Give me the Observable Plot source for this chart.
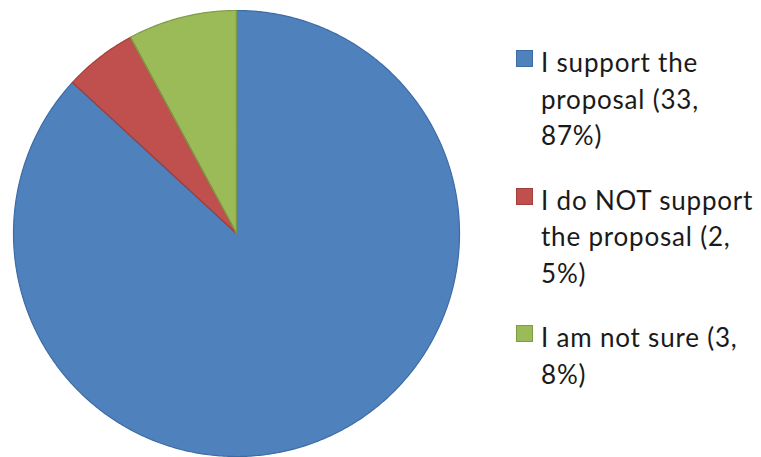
<!DOCTYPE html>
<html>
<head>
<meta charset="utf-8">
<script src="https://cdn.jsdelivr.net/npm/d3@7"></script>
<script src="https://cdn.jsdelivr.net/npm/@observablehq/plot@0.6"></script>
<style>
  html, body { margin: 0; padding: 0; background: #fff; }
  #wrap { position: relative; width: 761px; height: 457px; overflow: hidden; }
  #legend { position: absolute; left: 516px; top: 44px; font-family: Lato, sans-serif; font-size: 26px; letter-spacing: 0.8px; line-height: 36.5px; color: #1a1a1a; }
  .item { display: flex; align-items: flex-start; margin-bottom: 28px; }
  .sw { width: 15px; height: 15px; margin-top: 6px; margin-right: 8px; flex: none; border: 1px solid; }
  .lab { width: 225px; }
</style>
</head>
<body>
<div id="wrap"><div id="legend"></div></div>
<script>
const categories = ["I support the proposal", "I do NOT support the proposal", "I am not sure"];
const values = [33, 2, 3];
const colors = ["#4F81BD", "#C0504D", "#9BBB59"];
const strokes = ["#3D6CA5", "#A23F3C", "#7E9C45"];

const total = d3.sum(values);
const rows = categories.map((c, i) => ({category: c, value: values[i]}));
const arcs = d3.pie().sort(null).value(d => d.value)(rows); // angles clockwise from 12 o'clock

// Build slice outlines from pie angles (geometry only)
const pts = [];
arcs.forEach(a => {
  const k = a.data.category;
  pts.push({k, x: 0, y: 0});
  const n = Math.max(8, Math.ceil((a.endAngle - a.startAngle) / 0.01));
  for (let j = 0; j <= n; j++) {
    const t = a.startAngle + (a.endAngle - a.startAngle) * j / n;
    pts.push({k, x: Math.sin(t), y: Math.cos(t)});
  }
  pts.push({k, x: 0, y: 0});
});

const chart = Plot.plot({
  width: 761,
  height: 457,
  marginLeft: 13,
  marginRight: 302,
  marginTop: 10,
  marginBottom: 1,
  x: {domain: [-1, 1], axis: null},
  y: {domain: [-1, 1], axis: null},
  color: {domain: categories, range: colors},
  marks: [
    Plot.line(pts, {x: "x", y: "y", z: "k", fill: "k", stroke: "k", strokeWidth: 0, curve: "linear"}),
    ...categories.map((c, i) => Plot.line(pts.filter(p => p.k === c), {x: "x", y: "y", stroke: strokes[i], strokeWidth: 1.2, strokeLinejoin: "round"}))
  ]
});
document.getElementById("wrap").prepend(chart);

const legend = d3.select("#legend");
categories.forEach((c, i) => {
  const pct = Math.round(values[i] / total * 100);
  const it = legend.append("div").attr("class", "item");
  it.append("div").attr("class", "sw").style("background", colors[i]).style("border-color", strokes[i]);
  it.append("div").attr("class", "lab").text(`${c} (${values[i]}, ${pct}%)`);
});
</script>
</body>
</html>
